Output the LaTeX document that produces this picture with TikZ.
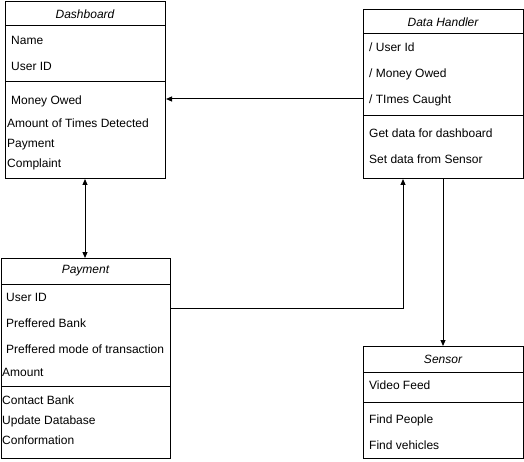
\documentclass[tikz,border=0pt]{standalone}
\usepackage{fontspec}
\setmainfont{Liberation Sans}
\usetikzlibrary{arrows.meta}
\begin{document}
\begin{tikzpicture}[x=1pt,y=-1pt,
  umlbox/.style={draw,line width=1pt,rectangle,anchor=north west,inner sep=0pt},
  title/.style={font=\fontsize{12}{14}\selectfont\itshape,inner sep=0pt},
  item/.style={font=\fontsize{12}{14}\selectfont,anchor=west,inner sep=0pt,text height=8.6pt,text depth=2.4pt,yshift=-1.5pt},
  sep/.style={line width=1pt},
  arr/.style={line width=1pt,-{Triangle[length=6pt,width=5pt]}},
  darr/.style={line width=1pt,{Triangle[length=6pt,width=5pt]}-{Triangle[length=6pt,width=5pt]}}]
\useasboundingbox (0,0) rectangle (524,462);
% Dashboard
\node[umlbox,minimum width=160pt,minimum height=177pt] (dash) at (5,1) {};
\node[title] (dasht) at (85,14) {Dashboard};
\draw[sep] (5,26) -- (165,26);
\draw[sep] (5,82) -- (165,82);
\node[item] (d1) at (11,40) {Name};
\node[item] (d2) at (11,66) {User ID};
\node[item] (d3) at (11,100) {Money Owed};
\node[item] (d4) at (7,123) {Amount of Times Detected};
\node[item] (d5) at (7,143) {Payment};
\node[item] (d6) at (7,163) {Complaint};
% Data Handler
\node[umlbox,minimum width=160pt,minimum height=169pt] (dh) at (363,9) {};
\node[title] (dht) at (443,22) {Data Handler};
\draw[sep] (363,34) -- (523,34);
\draw[sep] (363,116) -- (523,116);
\node[item] (h1) at (369,47) {/ User Id};
\node[item] (h2) at (369,73) {/ Money Owed};
\node[item] (h3) at (369,99) {/ TImes Caught};
\node[item] (h4) at (369,133) {Get data for dashboard};
\node[item] (h5) at (369,159) {Set data from Sensor};
% Payment
\node[umlbox,minimum width=169pt,minimum height=200pt] (pay) at (1,258) {};
\node[title] (payt) at (85.5,271) {Payment};
\draw[sep] (1,284) -- (170,284);
\draw[sep] (1,386) -- (170,386);
\node[item] (p1) at (6,297) {User ID};
\node[item] (p2) at (6,323) {Preffered Bank};
\node[item] (p3) at (6,349) {Preffered mode of transaction};
\node[item] (p4) at (2,372) {Amount};
\node[item] (p5) at (2,400) {Contact Bank};
\node[item] (p6) at (2,420) {Update Database};
\node[item] (p7) at (2,440) {Conformation};
% Sensor
\node[umlbox,minimum width=160pt,minimum height=112pt] (sen) at (363,346) {};
\node[title] (sent) at (443,359) {Sensor};
\draw[sep] (363,372) -- (523,372);
\draw[sep] (363,402) -- (523,402);
\node[item] (s1) at (369,385) {Video Feed};
\node[item] (s2) at (369,419) {Find People};
\node[item] (s3) at (369,445) {Find vehicles};
% connectors
\draw[arr] (dh.west |- 0,99) -- (dash.east |- 0,99);
\draw[darr] (dash.south -| 85,0) -- (pay.north -| 85,0);
\draw[arr] (pay.east |- 0,308) -- (403,308) -- (dh.south -| 403,0);
\draw[arr] (dh.south -| 443,0) -- (sen.north -| 443,0);
\end{tikzpicture}
\end{document}
